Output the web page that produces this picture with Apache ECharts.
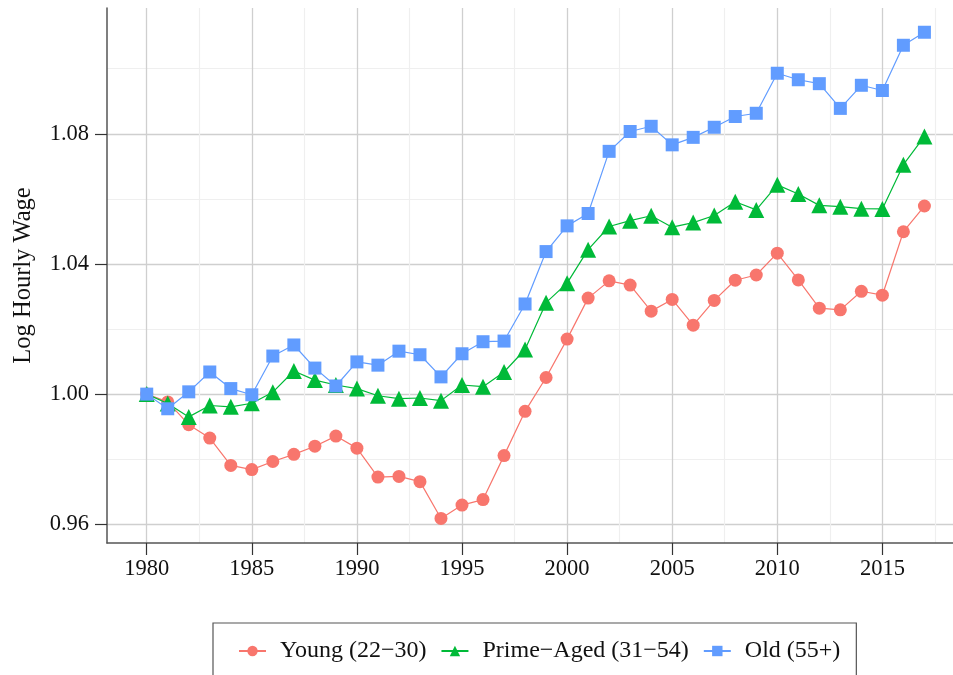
<!DOCTYPE html>
<html><head><meta charset="utf-8">
<script src="https://cdn.jsdelivr.net/npm/echarts@6/dist/echarts.min.js"></script>
<style>html,body{margin:0;padding:0;background:#fff}#c{width:953px;height:675px}</style>
</head><body><div id="c"></div><script>
const years = [1980,1981,1982,1983,1984,1985,1986,1987,1988,1989,1990,1991,1992,1993,1994,1995,1996,1997,1998,1999,2000,2001,2002,2003,2004,2005,2006,2007,2008,2009,2010,2011,2012,2013,2014,2015,2016,2017];
const young = [1.000,0.9976,0.9906,0.9865,0.9781,0.9768,0.9793,0.9815,0.9840,0.9871,
               0.9834,0.9745,0.9747,0.9731,0.9618,0.9659,0.9676,0.9811,0.9947,1.0051,
               1.0169,1.0295,1.0348,1.0335,1.0255,1.0291,1.0212,1.0288,1.0350,1.0366,
               1.0433,1.0351,1.0264,1.0259,1.0316,1.0304,1.0499,1.0578];
const prime = [1.000,0.9971,0.9930,0.9965,0.9961,0.9972,1.0006,1.0071,1.0043,1.0028,
               1.0017,0.9995,0.9986,0.9988,0.9980,1.0028,1.0023,1.0068,1.0137,1.0281,
               1.0341,1.0444,1.0515,1.0533,1.0548,1.0513,1.0527,1.0549,1.0591,1.0566,
               1.0643,1.0615,1.0580,1.0576,1.0570,1.0569,1.0705,1.0792];
const old = [1.000,0.9955,1.0007,1.0068,1.0017,0.9998,1.0117,1.0151,1.0080,1.0025,
             1.0099,1.0089,1.0132,1.0121,1.0053,1.0124,1.0161,1.0163,1.0277,1.0438,
             1.0517,1.0555,1.0746,1.0807,1.0823,1.0766,1.0789,1.0820,1.0853,1.0863,
             1.0986,1.0966,1.0954,1.0878,1.0949,1.0933,1.1072,1.1112];
const seriesNames = ['Young (22\u221230)', 'Prime\u2212Aged (31\u221254)', 'Old (55+)'];
const xTicks = [1980,1985,1990,1995,2000,2005,2010,2015];
const xMinor = [1982.5,1987.5,1992.5,1997.5,2002.5,2007.5,2012.5,2017.5];
const yTicks = [0.96,1.00,1.04,1.08];
const yMinor = [0.98,1.02,1.06,1.10];

const FONT = 'Liberation Serif';
const xMin = 1978.11, xMax = 2018.36, yMin = 0.95425, yMax = 1.11865;
const colors = ['#F8766D', '#00BA38', '#619CFF'];
const symbols = ['circle', 'triangle', 'rect'];
const sizes = [13, 16, 13];
const values = [young, prime, old];

const chart = echarts.init(document.getElementById('c'));
chart.setOption({
  animation: false,
  backgroundColor: '#fff',
  grid: { left: 107, right: 0, top: 8, bottom: 132, containLabel: false },
  xAxis: [
    { type: 'value', min: xMin, max: xMax, position: 'bottom',
      axisLine: { show: true, lineStyle: { color: '#555', width: 1.5 } },
      axisTick: { show: true, length: 12, customValues: xTicks, lineStyle: { color: '#333', width: 1.2 } },
      axisLabel: { customValues: xTicks, margin: 15, fontFamily: FONT, fontSize: 22.5, color: '#111',
                   formatter: v => String(v) },
      splitLine: { show: true, lineStyle: { color: '#cfcfcf', width: 1.3 } } },
    { type: 'value', min: xMin, max: xMax, position: 'bottom',
      axisLine: { show: false },
      axisTick: { show: false, customValues: xMinor },
      axisLabel: { show: false, customValues: xMinor },
      splitLine: { show: true, lineStyle: { color: '#efefef', width: 1.2 } } }
  ],
  yAxis: [
    { type: 'value', min: yMin, max: yMax, position: 'left',
      name: 'Log Hourly Wage', nameLocation: 'middle', nameGap: 71, nameRotate: 90,
      nameTextStyle: { fontFamily: FONT, fontSize: 24.5, color: '#111' },
      axisLine: { show: true, lineStyle: { color: '#555', width: 1.5 } },
      axisTick: { show: true, length: 12, customValues: yTicks, lineStyle: { color: '#333', width: 1.2 } },
      axisLabel: { customValues: yTicks, margin: 18, fontFamily: FONT, fontSize: 22.5, color: '#111',
                   formatter: v => v.toFixed(2) },
      splitLine: { show: true, lineStyle: { color: '#cfcfcf', width: 1.3 } } },
    { type: 'value', min: yMin, max: yMax, position: 'left',
      axisLine: { show: false },
      axisTick: { show: false, customValues: yMinor },
      axisLabel: { show: false, customValues: yMinor },
      splitLine: { show: true, lineStyle: { color: '#efefef', width: 1.2 } } }
  ],
  legend: {
    left: 213, top: 623, orient: 'horizontal',
    itemWidth: 27, itemHeight: 13, itemGap: 14,
    padding: [16, 16, 40, 25],
    borderColor: '#555', borderWidth: 1.2,
    textStyle: { fontFamily: FONT, fontSize: 24, color: '#111', padding: [0, 0, 0, 9] },
    data: seriesNames
  },
  series: values.map((vals, i) => ({
    name: seriesNames[i],
    type: 'line',
    xAxisIndex: 0, yAxisIndex: 0,
    data: years.map((y, j) => [y, vals[j]]),
    symbol: symbols[i],
    symbolSize: sizes[i],
    showSymbol: true,
    lineStyle: { color: colors[i], width: 1.2 },
    itemStyle: { color: colors[i] },
    emphasis: { disabled: true },
    z: 3 + i
  }))
});
</script></body></html>
